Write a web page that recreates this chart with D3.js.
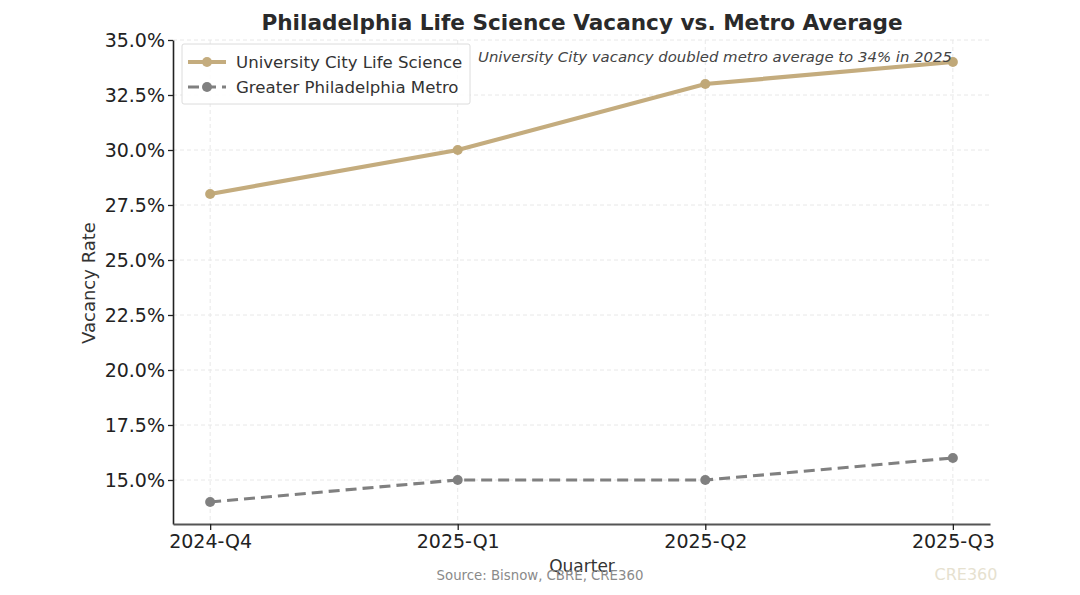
<!DOCTYPE html>
<html><head><meta charset="utf-8">
<script src="https://cdn.jsdelivr.net/npm/d3@7"></script>
<style>
html,body{margin:0;padding:0;background:#fff;}
svg{display:block;font-family:"DejaVu Sans",sans-serif;}
</style></head>
<body>
<svg id="chart" width="1080" height="595"></svg>
<script>
const quarters = ["2024-Q4","2025-Q1","2025-Q2","2025-Q3"];
const universityCity = [28, 30, 33, 34];
const greaterPhilly = [14, 15, 15, 16];
const yTicks = [15, 17.5, 20, 22.5, 25, 27.5, 30, 32.5, 35];
const seriesNames = ["University City Life Science","Greater Philadelphia Metro"];

const svg = d3.select("#chart");
const M = {left:173, right:990, top:40, bottom:524};
const x = d3.scalePoint().domain(quarters).range([M.left, M.right]).padding(0.15);
const y = d3.scaleLinear().domain([13, 35]).range([M.bottom, M.top]);

// grid
const g = svg.append("g");
g.selectAll(".hg").data(yTicks).join("line")
  .attr("x1", M.left).attr("x2", M.right)
  .attr("y1", d=>y(d)).attr("y2", d=>y(d))
  .attr("stroke","#e8e8e8").attr("stroke-width",1).attr("stroke-dasharray","4,3");
g.selectAll(".vg").data(quarters).join("line")
  .attr("y1", M.top).attr("y2", M.bottom)
  .attr("x1", d=>x(d)).attr("x2", d=>x(d))
  .attr("stroke","#e8e8e8").attr("stroke-width",1).attr("stroke-dasharray","4,3");

// axes
const yAxis = svg.append("g").attr("transform",`translate(${M.left},0)`)
  .call(d3.axisLeft(y).tickValues(yTicks).tickFormat(d=>d.toFixed(1)+"%").tickSize(5).tickSizeOuter(0).tickPadding(3));
yAxis.select(".domain").attr("stroke","#222").attr("stroke-width",1.6);
yAxis.selectAll(".tick line").attr("stroke","#222").attr("stroke-width",1.3);
yAxis.selectAll(".tick text").attr("font-size",19).attr("fill","#222").attr("font-family","DejaVu Sans");

const xAxis = svg.append("g").attr("transform",`translate(0,${M.bottom})`)
  .call(d3.axisBottom(x).tickSize(6).tickSizeOuter(0).tickPadding(5));
xAxis.select(".domain").attr("stroke","#555").attr("stroke-width",2);
xAxis.selectAll(".tick line").attr("stroke","#222").attr("stroke-width",1.3);
xAxis.selectAll(".tick text").attr("font-size",19).attr("fill","#222").attr("font-family","DejaVu Sans");

// lines
const line = d3.line().x((d,i)=>x(quarters[i])).y(d=>y(d));
svg.append("path").datum(greaterPhilly).attr("d",line)
  .attr("fill","none").attr("stroke","#808080").attr("stroke-width",3.2)
  .attr("stroke-dasharray","11,6");
svg.selectAll(".gp").data(greaterPhilly).join("circle")
  .attr("cx",(d,i)=>x(quarters[i])).attr("cy",d=>y(d)).attr("r",5).attr("fill","#808080");
svg.append("path").datum(universityCity).attr("d",line)
  .attr("fill","none").attr("stroke","#C4AC7E").attr("stroke-width",4.2);
svg.selectAll(".uc").data(universityCity).join("circle")
  .attr("cx",(d,i)=>x(quarters[i])).attr("cy",d=>y(d)).attr("r",5).attr("fill","#C0A878");

// title
svg.append("text").attr("x",582).attr("y",30).attr("text-anchor","middle")
  .attr("font-size",21.6).attr("font-weight","bold").attr("fill","#2a2a2a")
  .text("Philadelphia Life Science Vacancy vs. Metro Average");

// annotation
svg.append("text").attr("x",478).attr("y",62)
  .attr("font-size",14.9).attr("font-style","italic").attr("fill","#444")
  .text("University City vacancy doubled metro average to 34% in 2025");

// legend
const lg = svg.append("g");
lg.append("rect").attr("x",182).attr("y",44).attr("width",288).attr("height",60).attr("rx",2)
  .attr("fill","#fff").attr("fill-opacity",0.85).attr("stroke","#dcdcdc");
const legColors = ["#C4AC7E","#808080"];
const legDash = [null,"11,6"];
seriesNames.forEach((n,i)=>{
  const yy = 62 + i*25;
  lg.append("line").attr("x1",188).attr("x2",226).attr("y1",yy).attr("y2",yy)
    .attr("stroke",legColors[i]).attr("stroke-width",i?3.2:4.2).attr("stroke-dasharray",legDash[i]);
  lg.append("circle").attr("cx",207).attr("cy",yy).attr("r",5).attr("fill",legColors[i]);
  lg.append("text").attr("x",236).attr("y",yy+6).attr("font-size",16.6).attr("fill","#333").text(n);
});

// axis titles
svg.append("text").attr("transform","translate(95,283) rotate(-90)").attr("text-anchor","middle")
  .attr("font-size",18).attr("fill","#333").text("Vacancy Rate");
svg.append("text").attr("x",582).attr("y",572).attr("text-anchor","middle")
  .attr("font-size",17).attr("fill","#333").text("Quarter");

// source & watermark
svg.append("text").attr("x",540).attr("y",580).attr("text-anchor","middle")
  .attr("font-size",13.3).attr("fill","#8a8a8a").text("Source: Bisnow, CBRE, CRE360");
svg.append("text").attr("x",966).attr("y",580).attr("text-anchor","middle")
  .attr("font-size",16).attr("fill","#E6E1CF").text("CRE360");
</script>
</body></html>
